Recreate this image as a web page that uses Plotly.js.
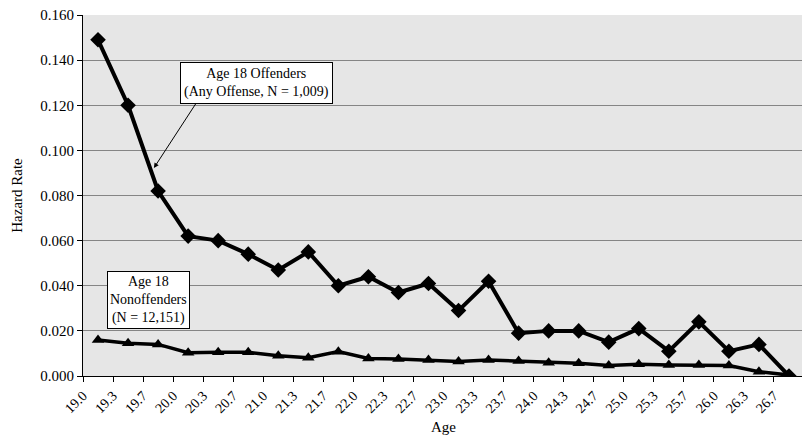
<!DOCTYPE html>
<html>
<head>
<meta charset="utf-8">
<script src="https://cdn.plot.ly/plotly-3.0.1.min.js"></script>
<style>html,body{margin:0;padding:0;overflow:hidden;background:#fff;}</style>
</head>
<body>
<div id="chart"></div>
<script>
const ageLabels = ["19.0","19.3","19.7","20.0","20.3","20.7","21.0","21.3","21.7","22.0","22.3","22.7","23.0","23.3","23.7","24.0","24.3","24.7","25.0","25.3","25.7","26.0","26.3","26.7"];
const offenders = [0.149,0.120,0.082,0.062,0.060,0.054,0.047,0.055,0.040,0.044,0.037,0.041,0.029,0.042,0.019,0.020,0.020,0.015,0.021,0.011,0.024,0.011,0.014,0.000];
const nonoffenders = [0.016,0.0145,0.014,0.0103,0.0105,0.0105,0.009,0.0081,0.0108,0.0078,0.0075,0.0071,0.0064,0.0071,0.0066,0.0059,0.0056,0.0046,0.0052,0.0049,0.0049,0.0046,0.0019,0.0004];

const xIdx = ageLabels.map((_, i) => i);
const tickPos = ageLabels.map((_, i) => i - 0.5);
const serif = "Liberation Serif, Times New Roman, serif";

const traces = [
  {x: xIdx, y: offenders, type: "scatter", mode: "lines+markers",
   line: {color: "#000", width: 4}, marker: {symbol: "diamond", size: 12, color: "#000"}},
  {x: xIdx, y: nonoffenders, type: "scatter", mode: "lines+markers",
   line: {color: "#000", width: 3.5}, marker: {symbol: "triangle-up", size: 11, color: "#000"}}
];

const layout = {
  width: 804, height: 437,
  margin: {l: 83, r: 0, t: 15, b: 61},
  paper_bgcolor: "#fff", plot_bgcolor: "#e6e6e6",
  showlegend: false,
  font: {family: serif, color: "#000", size: 14},
  xaxis: {
    range: [-0.5, 23.5], tickvals: tickPos, ticktext: ageLabels, tickangle: -45,
    ticks: "outside", ticklen: 5, tickcolor: "#000", showgrid: false, zeroline: false,
    showline: true, linecolor: "#000", linewidth: 1,
    tickfont: {family: serif, size: 14},
    title: {text: "Age", font: {family: serif, size: 15}, standoff: 6}
  },
  yaxis: {
    range: [0, 0.16], dtick: 0.02, tickformat: ".3f",
    ticks: "outside", ticklen: 5, tickcolor: "#000",
    showgrid: true, gridcolor: "#858585", gridwidth: 1, zeroline: false,
    showline: true, linecolor: "#000", linewidth: 1,
    tickfont: {family: serif, size: 15},
    title: {text: "Hazard Rate", font: {family: serif, size: 15}, standoff: 14}
  },
  annotations: [
    {x: 1.86, y: 0.0922, xref: "x", yref: "y", text: " ", showarrow: true,
     ax: 43, ay: -66, arrowhead: 2, arrowsize: 1, arrowwidth: 1, arrowcolor: "#000", font: {size: 1}},
    {x: (256 - 83) / 721, y: (376 - 82.5) / 361, xref: "paper", yref: "paper",
     xanchor: "center", yanchor: "middle",
     text: "Age 18 Offenders<br>(Any Offense, N = 1,009)", showarrow: false,
     bgcolor: "#fff", bordercolor: "#000", borderwidth: 1, borderpad: 3,
     font: {family: serif, size: 14}},
    {x: (148.7 - 83) / 721, y: (376 - 299.7) / 361, xref: "paper", yref: "paper",
     xanchor: "center", yanchor: "middle",
     text: "Age 18<br>Nonoffenders<br>(N = 12,151)", showarrow: false,
     bgcolor: "#fff", bordercolor: "#000", borderwidth: 1, borderpad: 2,
     font: {family: serif, size: 14}}
  ]
};

Plotly.newPlot("chart", traces, layout, {displayModeBar: false, staticPlot: true});
</script>
</body>
</html>
